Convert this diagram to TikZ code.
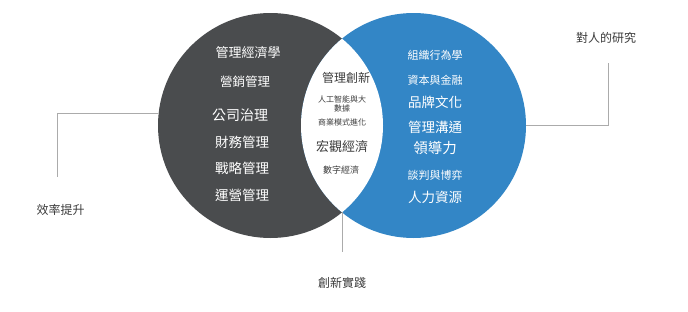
\documentclass[tikz,border=0pt]{standalone}
\usepackage{fontspec}
\newfontfamily\cjk{Noto Sans CJK TC}
\usepackage{tikz}
\usepackage{xcolor}
\usetikzlibrary{positioning, calc}

\definecolor{slate}{HTML}{4A4C4E}
\definecolor{ocean}{HTML}{3386C6}
\definecolor{inktext}{HTML}{3C3C3C}
\definecolor{linkgray}{HTML}{ABABAB}

\begin{document}
\begin{tikzpicture}[x=1pt,y=-1pt,font=\cjk,
    ring/.style={circle, minimum size=225pt, inner sep=0pt},
    link/.style={draw=linkgray, line width=0.9pt},
    fs/.style={font=\cjk\fontsize{#1}{#1}\selectfont},
    wtxt/.style={text=white, inner sep=0pt},
    ctxt/.style={text=inktext, inner sep=0pt, align=center},
    otxt/.style={text=inktext, inner sep=0pt, fs=12}]
    \useasboundingbox[fill=white] (0,0) rectangle (688,311);
    % two circles and the white overlap
    \node[ring, fill=slate] (mgmt) at (270.5,125.5) {};
    \node[ring, fill=ocean] (people) at (413.5,125.5) {};
    \begin{scope}
        \clip (270.5,125.5) circle (112.5);
        \fill[white] (413.5,125.5) circle (112.5);
    \end{scope}
    \coordinate (lensbot) at (342,212.4);
    % left circle
    \node[wtxt, fs=13]   (econ)    at (248,53)  {管理經濟學};
    \node[wtxt, fs=12.5] (market)  at (245,82)  {營銷管理};
    \node[wtxt, fs=14]   (govern)  at (240,115) {公司治理};
    \node[wtxt, fs=13.5] (finance) at (242,142) {財務管理};
    \node[wtxt, fs=13.5] (strat)   at (242,168) {戰略管理};
    \node[wtxt, fs=13.5] (ops)     at (242,195) {運營管理};
    % overlap
    \node[ctxt, fs=12] (innov)  at (346,78)  {管理創新};
    \node[ctxt, font=\cjk\fontsize{8}{8.5}\selectfont] (aidata) at (342,104) {人工智能與大\\數據};
    \node[ctxt, fs=8]  (bizmod) at (342,122) {商業模式進化};
    \node[ctxt, fs=13] (macro)  at (342,147) {宏觀經濟};
    \node[ctxt, fs=9]  (digit)  at (341,170) {數字經濟};
    % right circle
    \node[wtxt, fs=11]   (orgbeh)  at (435,55)  {組織行為學};
    \node[wtxt, fs=11]   (capital) at (435,80)  {資本與金融};
    \node[wtxt, fs=13.5] (brand)   at (435,102) {品牌文化};
    \node[wtxt, fs=13.5] (comm)    at (435,127) {管理溝通};
    \node[wtxt, fs=14.5] (lead)    at (435,148) {領導力};
    \node[wtxt, fs=11]   (negot)   at (435,175) {談判與博弈};
    \node[wtxt, fs=13.5] (hr)      at (435,197) {人力資源};
    % outer labels
    \node[otxt] (effic)    at (60.5,210) {效率提升};
    \node[otxt] (human)    at (606,38)   {對人的研究};
    \node[otxt] (practice) at (342,283)  {創新實踐};
    \coordinate (efficend) at (57,177);
    \coordinate (humanend) at (608,63);
    \coordinate (practend) at (342,252);
    \draw[link] (mgmt.174.6) -| (efficend);
    \draw[link] (people.east) -| (humanend);
    \draw[link] (lensbot) -- (practend);
\end{tikzpicture}
\end{document}
